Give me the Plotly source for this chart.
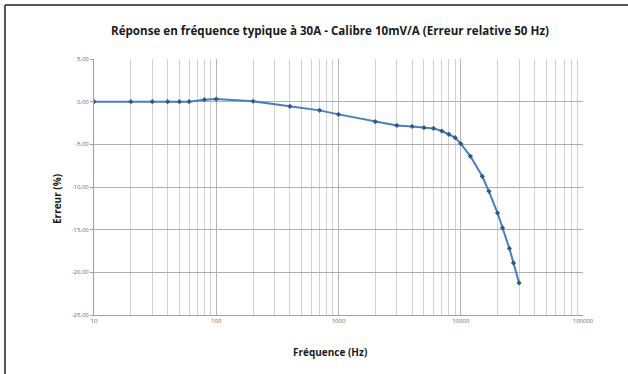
import plotly.graph_objects as go

freq_hz = [10, 20, 30, 40, 50, 60, 80, 100, 200, 400, 700, 1000, 2000, 3000, 4000,
           5000, 6000, 7000, 8000, 9000, 10000, 12000, 15000, 17000, 20000, 22000,
           25000, 27000, 30000]
erreur_pct = [0.0, 0.0, 0.0, 0.0, 0.0, 0.0, 0.23, 0.3, 0.05, -0.55, -1.02, -1.49, -2.35,
              -2.78, -2.9, -3.05, -3.13, -3.44, -3.83, -4.22, -4.92, -6.4, -8.75, -10.5,
              -13.05, -14.8, -17.2, -18.9, -21.24]

y_ticks = [5, 0, -5, -10, -15, -20, -25]
y_tick_labels = ["5,00", "0,00", "-5,00", "-10,00", "-15,00", "-20,00", "-25,00"]
x_ticks = [10, 100, 1000, 10000, 100000]
x_tick_labels = ["10", "100", "1000", "10000", "100000"]

title_text = "Réponse en fréquence typique à 30A - Calibre 10mV/A (Erreur relative 50 Hz)"

fig = go.Figure()
fig.add_trace(go.Scatter(
    x=freq_hz, y=erreur_pct, mode="lines+markers",
    line=dict(color="#4a7ebb", width=2),
    marker=dict(color="#2f5a8f", size=4, symbol="diamond"),
    showlegend=False,
))

W, H = 628, 374
L, R, T, B = 94, 45, 59, 59
PW, PH = W - L - R, H - T - B


def px_x(x):
    return (x - L) / PW


def px_y(y):
    return (H - B - y) / PH


fig.update_layout(
    width=W, height=H,
    margin=dict(l=L, r=R, t=T, b=B),
    paper_bgcolor="white", plot_bgcolor="white",
    font=dict(family="Open Sans, DejaVu Sans, sans-serif"),
    title=dict(text="<b>" + title_text + "</b>", x=330 / W, xanchor="center",
               y=1 - 31 / H, yanchor="middle",
               font=dict(size=11.6, color="#1a1a1a")),
)
fig.update_xaxes(
    type="log", range=[1, 5],
    tickvals=x_ticks, ticktext=x_tick_labels,
    tickfont=dict(size=6, color="#666"),
    showgrid=True, gridcolor="#b4b4b4", gridwidth=1,
    minor=dict(dtick="D1", showgrid=True, gridcolor="#d2d2d2", gridwidth=1, ticks=""),
    showline=True, linecolor="#a0a0a0", linewidth=1,
    ticks="", zeroline=False,
)
fig.update_yaxes(
    range=[-25, 5], tickvals=y_ticks, ticktext=y_tick_labels,
    tickfont=dict(size=6, color="#666"),
    showgrid=True, gridcolor="#b0b0b0", gridwidth=1,
    showline=True, linecolor="#a0a0a0", linewidth=1,
    ticks="outside", ticklen=3, tickcolor="#a0a0a0",
    zeroline=False,
)
fig.add_annotation(text="<b>Erreur (%)</b>", xref="paper", yref="paper",
                   x=px_x(57), y=px_y(199),
                   textangle=-90, showarrow=False, xanchor="center", yanchor="middle",
                   font=dict(size=10, color="#1a1a1a"))
fig.add_annotation(text="<b>Fréquence (Hz)</b>", xref="paper", yref="paper",
                   x=px_x(330), y=px_y(352),
                   showarrow=False, xanchor="center", yanchor="middle",
                   font=dict(size=10, color="#1a1a1a"))
# outer chart border (left and top visible)
fig.add_shape(type="line", xref="paper", yref="paper",
              x0=px_x(5), x1=px_x(640), y0=px_y(5), y1=px_y(5),
              line=dict(color="#555", width=2))
fig.add_shape(type="line", xref="paper", yref="paper",
              x0=px_x(5), x1=px_x(5), y0=px_y(5), y1=px_y(380),
              line=dict(color="#555", width=2))
fig.write_html("out.html", config={"displayModeBar": False},
               post_script="document.body.style.margin='0';")
